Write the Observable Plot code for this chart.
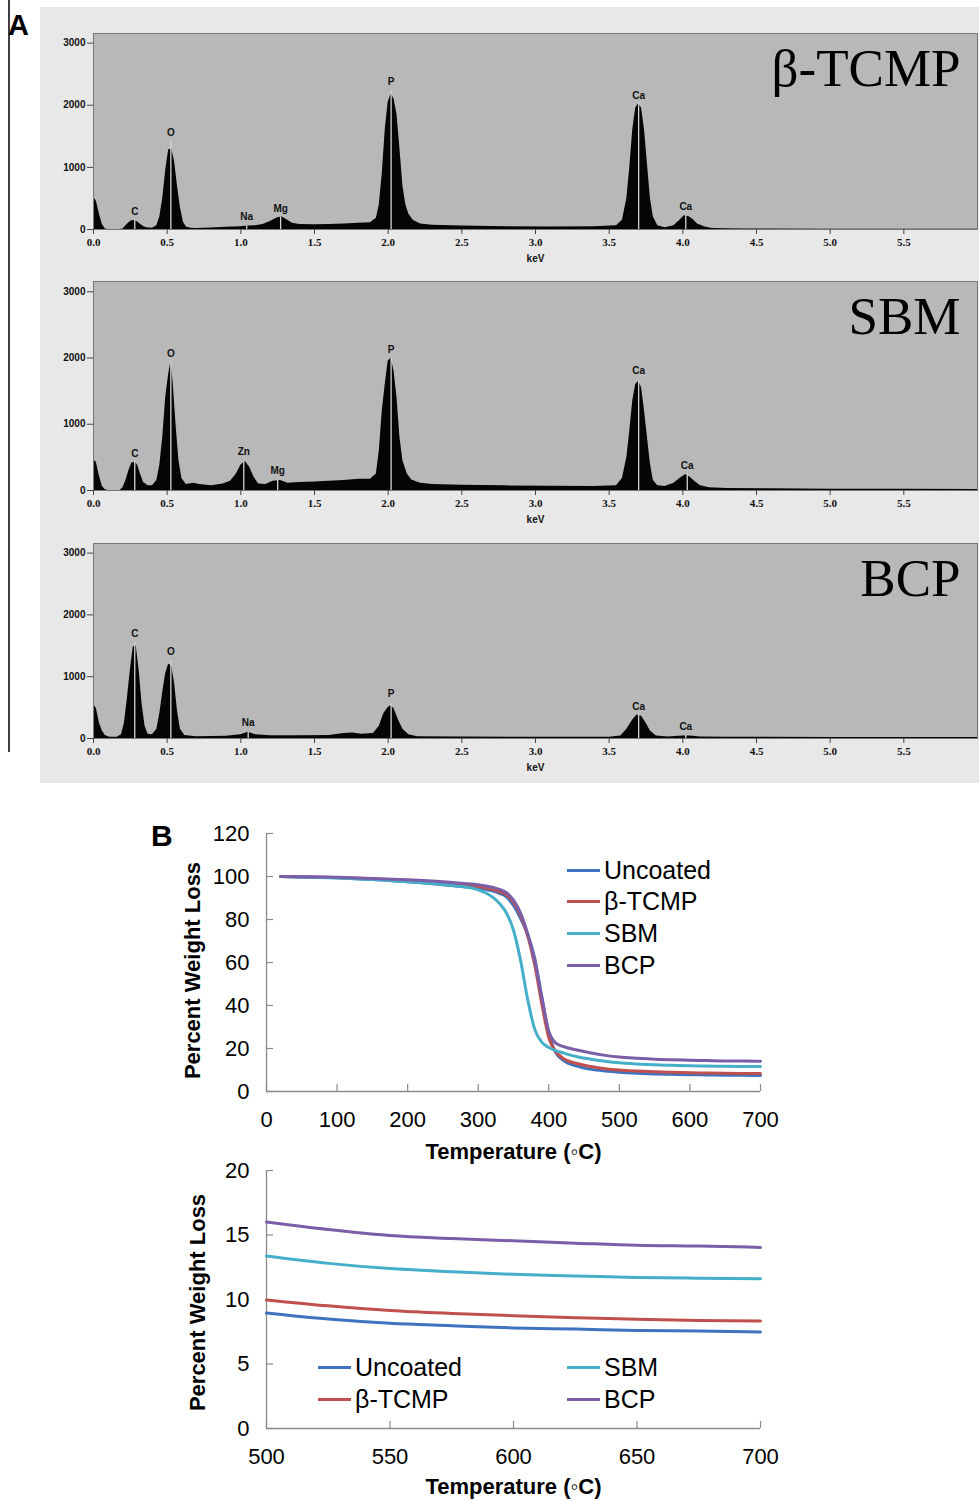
<!DOCTYPE html>
<html><head><meta charset="utf-8">
<script src="https://cdn.jsdelivr.net/npm/d3@7"></script>
<script src="https://cdn.jsdelivr.net/npm/@observablehq/plot@0.6"></script>
<style>
body{margin:0;background:#fff;}
#root{position:relative;width:979px;height:1501px;overflow:hidden;font-family:"Liberation Sans",Arial,sans-serif;color:#000;}
.abs{position:absolute;}
</style></head><body><div id="root"></div>
<script>
// ---------- Panel A: EDS spectra ----------
const specTitles = ["β-TCMP", "SBM", "BCP"];
const specXTicks = [0, 0.5, 1, 1.5, 2, 2.5, 3, 3.5, 4, 4.5, 5, 5.5];
const specYTicks = [0, 1000, 2000, 3000];

const keV1 = [0.00,0.01,0.02,0.04,0.06,0.08,0.10,0.18,0.20,0.22,0.24,0.26,0.28,0.30,0.32,0.34,0.36,0.40,0.43,0.45,0.47,0.49,0.51,0.53,0.55,0.57,0.59,0.61,0.63,0.66,0.70,0.80,0.90,1.00,1.05,1.10,1.15,1.20,1.25,1.28,1.31,1.35,1.40,1.50,1.60,1.70,1.80,1.88,1.92,1.94,1.96,1.98,2.00,2.02,2.04,2.06,2.08,2.10,2.12,2.14,2.17,2.22,2.30,2.50,2.80,3.10,3.40,3.55,3.59,3.62,3.64,3.66,3.68,3.70,3.72,3.74,3.76,3.78,3.80,3.83,3.88,3.94,3.98,4.01,4.04,4.07,4.10,4.15,4.20,4.40,5.00,6.00];
const cts1 = [470,490,450,250,80,10,0,0,10,60,110,140,145,120,80,50,30,20,60,200,500,950,1280,1300,1100,700,350,120,40,20,15,25,35,45,55,60,80,130,190,200,160,100,80,75,80,90,100,110,180,400,900,1600,2050,2180,2100,1850,1300,700,400,250,150,90,70,55,45,40,45,60,150,500,1000,1600,1950,2030,1950,1600,1050,500,200,60,30,60,150,220,210,160,90,40,15,8,5,5];
const peakName1 = ["C","O","Na","Mg","P","Ca","Ca"];
const peakKeV1 = [0.28,0.525,1.04,1.27,2.02,3.70,4.02];
const peakTop1 = [150,1420,60,200,2230,2050,230];
const peakLabel1 = [290,1550,210,340,2370,2160,370];

const keV2 = [0.00,0.01,0.02,0.04,0.06,0.08,0.10,0.18,0.20,0.22,0.24,0.26,0.28,0.30,0.32,0.34,0.37,0.40,0.43,0.45,0.47,0.49,0.51,0.525,0.54,0.56,0.58,0.60,0.63,0.68,0.72,0.80,0.88,0.93,0.97,1.00,1.03,1.06,1.09,1.12,1.17,1.22,1.27,1.32,1.40,1.50,1.60,1.70,1.80,1.88,1.92,1.94,1.96,1.98,2.00,2.02,2.04,2.06,2.08,2.10,2.13,2.16,2.22,2.30,2.50,2.80,3.10,3.40,3.55,3.59,3.62,3.64,3.66,3.68,3.70,3.72,3.74,3.76,3.78,3.80,3.83,3.88,3.94,3.98,4.02,4.05,4.08,4.12,4.18,4.30,4.60,5.00,5.50,6.00];
const cts2 = [420,450,420,220,60,10,0,0,40,150,300,410,430,380,240,120,70,70,150,380,800,1400,1750,1940,1650,1000,450,180,90,110,90,70,100,140,250,380,440,350,200,100,90,140,150,110,120,130,140,150,170,170,250,600,1200,1600,1950,2000,1800,1400,800,450,250,160,110,90,80,70,65,60,70,180,500,900,1350,1600,1650,1550,1200,800,400,150,70,60,110,180,240,200,140,70,40,30,25,20,20,15];
const peakName2 = ["C","O","Zn","Mg","P","Ca","Ca"];
const peakKeV2 = [0.28,0.525,1.02,1.25,2.02,3.70,4.03];
const peakTop2 = [450,1950,450,150,2000,1650,250];
const peakLabel2 = [560,2070,590,290,2130,1800,380];

const keV3 = [0.00,0.01,0.02,0.04,0.06,0.08,0.11,0.16,0.19,0.21,0.23,0.25,0.27,0.29,0.31,0.33,0.35,0.37,0.40,0.43,0.45,0.47,0.49,0.51,0.53,0.55,0.57,0.59,0.62,0.70,0.90,1.00,1.05,1.10,1.20,1.40,1.60,1.70,1.76,1.82,1.90,1.94,1.97,2.00,2.02,2.04,2.07,2.10,2.14,2.20,2.50,3.00,3.50,3.58,3.62,3.66,3.69,3.72,3.75,3.78,3.82,3.90,4.00,4.05,4.12,4.30,5.00,6.00];
const cts3 = [500,520,480,250,120,50,20,20,60,250,650,1100,1480,1500,1100,550,200,70,60,150,400,750,1050,1200,1180,900,450,150,50,30,35,60,100,60,45,45,50,80,90,70,80,200,400,500,530,480,300,150,60,30,25,20,22,40,150,300,380,360,250,120,40,25,40,40,25,20,18,15];
const peakName3 = ["C","O","Na","P","Ca","Ca"];
const peakKeV3 = [0.28,0.525,1.05,2.02,3.70,4.02];
const peakTop3 = [1560,1260,100,560,400,50];
const peakLabel3 = [1700,1400,260,730,520,195];

// ---------- Panel B: TGA ----------
const seriesNames = ["Uncoated", "β-TCMP", "SBM", "BCP"];
const seriesColors = ["#3f72bf", "#c0504d", "#45afca", "#7b5ea7"];
const temps = [20,50,100,150,200,250,280,300,320,330,340,350,360,370,380,390,400,410,420,440,460,480,500,525,550,575,600,625,650,675,700];
const uncoated = [100,99.8,99.4,98.6,97.6,96.2,95.2,94.5,93.3,92.2,90.5,86.5,80.5,73,62,44,27,18,14.6,11.8,10.3,9.5,8.95,8.48,8.15,7.97,7.8,7.71,7.6,7.56,7.48];
const tcmp = [100,99.8,99.5,98.9,98.1,97.0,96.0,95.3,94.0,93.0,91.5,88,82,72.5,59,41,25,18.5,15.5,13,11.6,10.6,9.97,9.51,9.15,8.92,8.74,8.59,8.46,8.38,8.33];
const sbm = [100,99.7,99.3,98.6,97.6,96.3,95.2,93.8,90.5,87.5,83,75,61,43,29,23,20.5,19,18,16.2,15,14.1,13.37,12.8,12.4,12.16,11.95,11.83,11.7,11.65,11.6];
const bcp = [100,99.9,99.6,99.1,98.5,97.6,96.8,96.2,95.0,94.0,92.5,89,83,73.5,61,44,28,22.5,21,19.3,17.9,16.8,16.0,15.42,14.96,14.73,14.55,14.37,14.2,14.14,14.04];
const tga1XTicks = [0,100,200,300,400,500,600,700];
const tga1YTicks = [0,20,40,60,80,100,120];
const tga2XTicks = [500,550,600,650,700];
const tga2YTicks = [0,5,10,15,20];

// ---------- build ----------
const root = document.getElementById("root");
function place(el, left, top) {
  el.style.position = "absolute"; el.style.left = left + "px"; el.style.top = top + "px";
  root.appendChild(el); return el;
}

// Panel A background
const boxA = document.createElement("div");
boxA.style.cssText = "width:939px;height:776px;background:#e8e8e8;";
place(boxA, 40, 7);

function spectrum(keV, cts, names, pk, tops, labs, title, top, height, plotTop, plotBottom) {
  const data = keV.map((k, i) => ({k, c: cts[i]}));
  const peaks = names.map((n, i) => ({n, k: pk[i], top: tops[i], lab: labs[i]}));
  const svg = Plot.plot({
    width: 939, height,
    marginLeft: 53, marginRight: 2,
    marginTop: plotTop - top, marginBottom: top + height - plotBottom,
    style: {background: "transparent", overflow: "visible", color: "#111"},
    x: {domain: [0, 6]},
    y: {domain: [0, 3155]},
    marks: [
      Plot.frame({fill: "#b8b8b8", stroke: null}),
      Plot.areaY(data, {x: "k", y: "c", fill: "#050505", curve: "linear"}),
      Plot.ruleX(peaks, {x: "k", y1: 0, y2: "top", stroke: "#d4d4d4", strokeWidth: 1.3}),
      Plot.text(peaks, {x: "k", y: "lab", text: "n", fontSize: 10, fontWeight: "bold", fontFamily: "Liberation Sans", fill: "#111"}),
      Plot.frame({stroke: "#777", strokeWidth: 1}),
      Plot.axisY({ticks: specYTicks, tickSize: 6, tickPadding: 2, tickFormat: d => String(d), fontSize: 10, fontWeight: "bold", fontFamily: "Liberation Sans", stroke: "#444", label: null}),
      Plot.axisX({ticks: specXTicks, tickSize: 5, tickPadding: 4, tickFormat: d => d.toFixed(1), fontSize: 11, fontWeight: "bold", fontFamily: "Liberation Serif", stroke: "#444", label: null}),
      Plot.text(["keV"], {frameAnchor: "bottom", dy: 32, fontSize: 10, fontWeight: "bold", fontFamily: "Liberation Sans", fill: "#111"}),
      Plot.text([title], {frameAnchor: "top-right", textAnchor: "end", lineAnchor: "top", dx: -17, dy: 15, fontSize: 53, fontFamily: "Liberation Serif", fill: "#000"})
    ]
  });
  place(svg, 40, top);
}
spectrum(keV1, cts1, peakName1, peakKeV1, peakTop1, peakLabel1, specTitles[0], 7, 263, 33, 229);
spectrum(keV2, cts2, peakName2, peakKeV2, peakTop2, peakLabel2, specTitles[1], 270, 265, 281, 490);
spectrum(keV3, cts3, peakName3, peakKeV3, peakTop3, peakLabel3, specTitles[2], 535, 248, 543, 738);

// Panel B
const seriesValues = [uncoated, tcmp, sbm, bcp];
const rows = seriesValues.flatMap((vals, s) => temps.map((t, i) => ({t, v: vals[i], s: seriesNames[s]})));

function tga(top, height, plotTop, plotBottom, xDomain, xTicks, yDomain, yTicks, titleDy, ylabDx, ylabDy) {
  const marginLeft = 116, marginRight = 40, width = 650;
  const plotW = width - marginLeft - marginRight;
  const plotH = plotBottom - plotTop;
  const data = rows.filter(d => d.t >= xDomain[0] && d.t <= xDomain[1]);
  const svg = Plot.plot({
    width, height, marginLeft, marginRight,
    marginTop: plotTop - top, marginBottom: top + height - plotBottom,
    style: {background: "transparent", overflow: "visible", color: "#000", fontFamily: "Liberation Sans"},
    x: {domain: xDomain},
    y: {domain: yDomain},
    color: {domain: seriesNames, range: seriesColors},
    marks: [
      Plot.ruleX(xTicks, {x: d => d, insetTop: plotH - 7, stroke: "#8a8a8a", strokeWidth: 1.2}),
      Plot.ruleY(yTicks, {y: d => d, insetRight: plotW - 7, stroke: "#8a8a8a", strokeWidth: 1.2}),
      Plot.ruleY([yDomain[0]], {stroke: "#8a8a8a", strokeWidth: 1.3}),
      Plot.ruleX([xDomain[0]], {stroke: "#8a8a8a", strokeWidth: 1.3}),
      Plot.axisX({ticks: xTicks, tickSize: 0, tickPadding: 20, fontSize: 22, label: null}),
      Plot.axisY({ticks: yTicks, tickSize: 0, tickPadding: 17, fontSize: 22, label: null}),
      Plot.line(data, {x: "t", y: "v", z: "s", stroke: "s", strokeWidth: 3, curve: "monotone-x"}),
      Plot.text(["Temperature (◦C)"], {frameAnchor: "bottom", textAnchor: "middle", dy: titleDy, fontSize: 22, fontWeight: "bold"}),
      Plot.text(["Percent Weight Loss"], {frameAnchor: "left", textAnchor: "middle", dx: ylabDx, dy: ylabDy, rotate: -90, fontSize: 22, fontWeight: "bold"})
    ]
  });
  place(svg, 150, top);
}
tga(815, 350, 833, 1091, [0, 700], tga1XTicks, [0, 120], tga1YTicks, 67, -74, 8);
tga(1160, 341, 1170, 1428, [500, 700], tga2XTicks, [0, 20], tga2YTicks, 65, -69, 3);

// legends (HTML)
function legendItem(name, color, lineLeft, cy) {
  const d = document.createElement("div");
  d.style.cssText = "display:flex;align-items:center;height:30px;white-space:nowrap;font-size:25px;font-family:'Liberation Sans',Arial,sans-serif;";
  const ln = document.createElement("span");
  ln.style.cssText = `display:inline-block;width:33px;height:3px;background:${color};margin-right:4px;`;
  const tx = document.createElement("span");
  tx.textContent = name;
  d.appendChild(ln); d.appendChild(tx);
  place(d, lineLeft, cy - 15);
}
seriesNames.forEach((n, i) => legendItem(n, seriesColors[i], 567, 870 + i * 31.7));
seriesNames.forEach((n, i) => legendItem(n, seriesColors[i], i < 2 ? 318 : 567, 1367 + (i % 2) * 32));

// panel letters and left rule
const ov = document.createElementNS("http://www.w3.org/2000/svg", "svg");
ov.setAttribute("width", 979); ov.setAttribute("height", 1501);
ov.style.pointerEvents = "none";
ov.innerHTML = `<line x1="9" y1="0" x2="9" y2="752" stroke="#000" stroke-width="1.5"/>
<text x="8" y="35" font-family="Liberation Sans" font-weight="bold" font-size="29">A</text>
<text x="151" y="846" font-family="Liberation Sans" font-weight="bold" font-size="30">B</text>`;
place(ov, 0, 0);
</script></body></html>
